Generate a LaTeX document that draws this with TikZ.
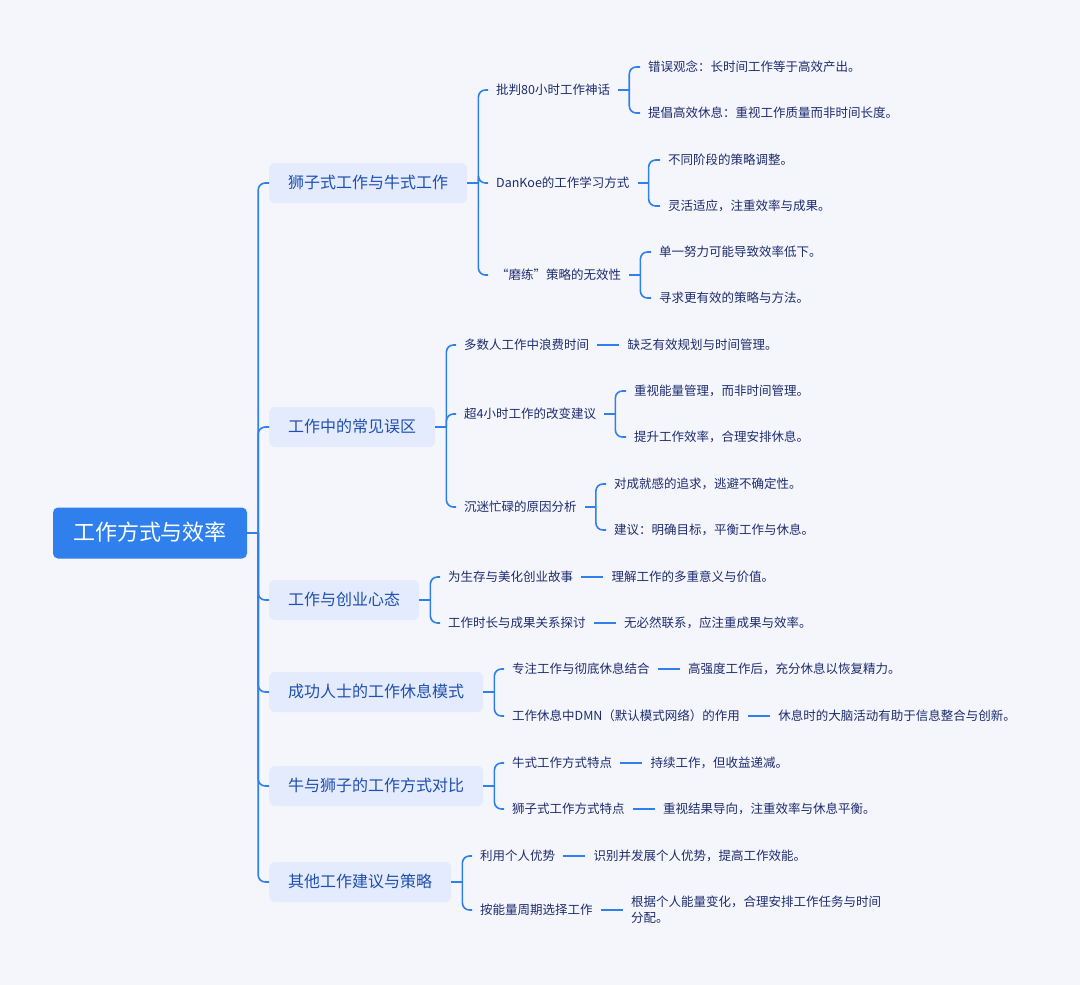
\documentclass[tikz,border=0pt]{standalone}
\usepackage{fontspec}
\setmainfont{Noto Sans CJK SC}
\usetikzlibrary{positioning}

\definecolor{sfondo}{HTML}{F5F6FC}
\definecolor{blu}{HTML}{2F80ED}
\definecolor{azzurro}{HTML}{E3EBFC}
\definecolor{bluscuro}{HTML}{1F4FB0}
\definecolor{notte}{HTML}{1D2C6E}

\begin{document}
\begin{tikzpicture}[x=1pt,y=-1pt,
	linea/.style={draw=blu, line width=1.6pt, rounded corners=7pt},
	radice/.style={fill=blu, text=white, rounded corners=5pt, minimum width=194pt,
		minimum height=51pt, text height=18.7pt, text depth=3.3pt,
		font=\fontsize{22}{26}\selectfont},
	ramo/.style={anchor=west, fill=azzurro, text=bluscuro, rounded corners=6pt,
		minimum height=40pt, inner xsep=19pt, text height=13.6pt, text depth=2.4pt,
		font=\fontsize{16}{20}\selectfont},
	testo/.style={anchor=west, text=notte, inner xsep=8pt, inner ysep=2pt,
		font=\fontsize{12.5}{16}\selectfont},
	foglia/.style={testo, text height=10.6pt, text depth=1.9pt},
	foglia2/.style={testo, align=left}
]

	\fill[sfondo] (0,0) rectangle (1080,985);

	% Nodo centrale
	\node[radice] (c) at (150,533) {工作方式与效率};

	% Rami principali
	\node[ramo] (r1) at (269,183) {狮子式工作与牛式工作};
	\node[ramo] (r2) at (269,427) {工作中的常见误区};
	\node[ramo] (r3) at (269,600) {工作与创业心态};
	\node[ramo] (r4) at (269,692) {成功人士的工作休息模式};
	\node[ramo] (r5) at (269,786) {牛与狮子的工作方式对比};
	\node[ramo] (r6) at (269,882) {其他工作建议与策略};

	% Primo ramo
	\node[foglia] (a11) at (488,90) {批判80小时工作神话};
	\node[foglia] (a12) at (488,183) {DanKoe的工作学习方式};
	\node[foglia] (a13) at (488,275) {“磨练”策略的无效性};
	\node[foglia] (f111) at (640,67) {错误观念：长时间工作等于高效产出。};
	\node[foglia] (f112) at (640,113) {提倡高效休息：重视工作质量而非时间长度。};
	\node[foglia] (f121) at (660,160) {不同阶段的策略调整。};
	\node[foglia] (f122) at (660,206) {灵活适应，注重效率与成果。};
	\node[foglia] (f131) at (651,252) {单一努力可能导致效率低下。};
	\node[foglia] (f132) at (651,298) {寻求更有效的策略与方法。};

	% Secondo ramo
	\node[foglia] (a21) at (456,345) {多数人工作中浪费时间};
	\node[foglia] (a22) at (456,414) {超4小时工作的改变建议};
	\node[foglia] (a23) at (456,507) {沉迷忙碌的原因分析};
	\node[foglia, right=22pt of a21] (f211) {缺乏有效规划与时间管理。};
	\node[foglia] (f221) at (626,391) {重视能量管理，而非时间管理。};
	\node[foglia] (f222) at (626,437) {提升工作效率，合理安排休息。};
	\node[foglia] (f231) at (606,484) {对成就感的追求，逃避不确定性。};
	\node[foglia] (f232) at (606,530) {建议：明确目标，平衡工作与休息。};

	% Terzo ramo
	\node[foglia] (a31) at (440,577) {为生存与美化创业故事};
	\node[foglia] (a32) at (440,623) {工作时长与成果关系探讨};
	\node[foglia, right=22pt of a31] (f311) {理解工作的多重意义与价值。};
	\node[foglia, right=22pt of a32] (f321) {无必然联系，应注重成果与效率。};

	% Quarto ramo
	\node[foglia] (a41) at (504,669) {专注工作与彻底休息结合};
	\node[foglia] (a42) at (504,716) {工作休息中DMN（默认模式网络）的作用};
	\node[foglia, right=22pt of a41] (f411) {高强度工作后，充分休息以恢复精力。};
	\node[foglia, right=22pt of a42] (f421) {休息时的大脑活动有助于信息整合与创新。};

	% Quinto ramo
	\node[foglia] (a51) at (504,763) {牛式工作方式特点};
	\node[foglia] (a52) at (504,809) {狮子式工作方式特点};
	\node[foglia, right=22pt of a51] (f511) {持续工作，但收益递减。};
	\node[foglia, right=22pt of a52] (f521) {重视结果导向，注重效率与休息平衡。};

	% Sesto ramo
	\node[foglia] (a61) at (472,856) {利用个人优势};
	\node[foglia] (a62) at (472,910) {按能量周期选择工作};
	\node[foglia, right=22pt of a61] (f611) {识别并发展个人优势，提高工作效能。};
	\node[foglia2, right=22pt of a62] (f621) {根据个人能量变化，合理安排工作任务与时间\\分配。};

	% Collegamenti dal nodo centrale
	\path (c.east) ++(11,0) coordinate (s0);
	\draw[linea] (c.east) -- (s0);
	\foreach \i in {1,...,6}
		\draw[linea] (s0) |- (r\i.west);

	% Parentesi dei rami principali
	\foreach \i in {1,...,6} {
		\path (r\i.east) ++(11,0) coordinate (k\i);
		\draw[linea] (r\i.east) -- (k\i);
	}
	\foreach \f in {11,12,13} \draw[linea] (k1) |- (a\f.west);
	\foreach \f in {21,22,23} \draw[linea] (k2) |- (a\f.west);
	\foreach \f in {31,32} \draw[linea] (k3) |- (a\f.west);
	\foreach \f in {41,42} \draw[linea] (k4) |- (a\f.west);
	\foreach \f in {51,52} \draw[linea] (k5) |- (a\f.west);
	\foreach \f in {61,62} \draw[linea] (k6) |- (a\f.west);

	% Parentesi del secondo livello
	\foreach \a in {11,12,13,22,23} {
		\path (a\a.east) ++(11,0) coordinate (k\a);
		\draw[linea] (a\a.east) -- (k\a);
		\draw[linea] (k\a) |- (f\a1.west);
		\draw[linea] (k\a) |- (f\a2.west);
	}

	% Linee semplici
	\foreach \a in {21,31,32,41,42,51,52,61,62}
		\draw[linea] (a\a.east) -- (f\a1.west);

\end{tikzpicture}
\end{document}
